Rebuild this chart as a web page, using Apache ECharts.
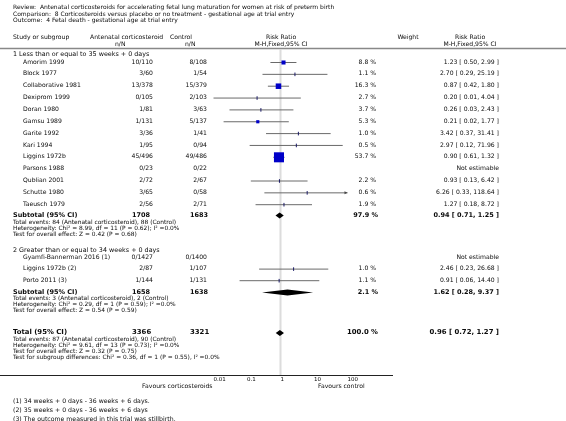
<!DOCTYPE html>
<html><head><meta charset="utf-8">
<script src="https://cdn.jsdelivr.net/npm/echarts@6/dist/echarts.min.js"></script>
<style>html,body{margin:0;padding:0;background:#fff}#c{width:566px;height:421px}</style>
</head><body><div id="c"></div>
<script>
// ---------- DATA ----------
const titleLines = [
  'Review:  Antenatal corticosteroids for accelerating fetal lung maturation for women at risk of preterm birth',
  'Comparison:  8 Corticosteroids versus placebo or no treatment - gestational age at trial entry',
  'Outcome:  4 Fetal death - gestational age at trial entry'
];
const group1Label = '1 Less than or equal to 35 weeks + 0 days';
const group1Names = ['Amorim 1999','Block 1977','Collaborative 1981','Dexiprom 1999','Doran 1980','Gamsu 1989','Garite 1992','Kari 1994','Liggins 1972b','Parsons 1988','Qublian 2001','Schutte 1980','Taeusch 1979'];
const group1TreatEvents = [10,3,13,0,1,1,3,1,45,0,2,3,2];
const group1TreatTotal  = [110,60,378,105,81,131,36,95,496,23,72,65,56];
const group1CtrlEvents  = [8,1,15,2,3,5,1,0,49,0,2,0,2];
const group1CtrlTotal   = [108,54,379,103,63,137,41,94,486,22,67,58,71];
const group1Weight = [8.8,1.1,16.3,2.7,3.7,5.3,1.0,0.5,53.7,null,2.2,0.6,1.9];
const group1RR = [1.23,2.70,0.87,0.20,0.26,0.21,3.42,2.97,0.90,null,0.93,6.26,1.27];
const group1Lo = [0.50,0.29,0.42,0.01,0.03,0.02,0.37,0.12,0.61,null,0.13,0.33,0.18];
const group1Hi = [2.99,25.19,1.80,4.04,2.43,1.77,31.41,71.96,1.32,null,6.42,118.64,8.72];
const group1Stats = ['Total events: 84 (Antenatal corticosteroid), 88 (Control)',
  'Heterogeneity: Chi² = 8.99, df = 11 (P = 0.62); I² =0.0%',
  'Test for overall effect: Z = 0.42 (P = 0.68)'];

const group2Label = '2 Greater than or equal to 34 weeks + 0 days';
const group2Names = ['Gyamfi-Bannerman 2016 (1)','Liggins 1972b (2)','Porto 2011 (3)'];
const group2TreatEvents = [0,2,1];
const group2TreatTotal  = [1427,87,144];
const group2CtrlEvents  = [0,1,1];
const group2CtrlTotal   = [1400,107,131];
const group2Weight = [null,1.0,1.1];
const group2RR = [null,2.46,0.91];
const group2Lo = [null,0.23,0.06];
const group2Hi = [null,26.68,14.40];
const group2Stats = ['Total events: 3 (Antenatal corticosteroid), 2 (Control)',
  'Heterogeneity: Chi² = 0.29, df = 1 (P = 0.59); I² =0.0%',
  'Test for overall effect: Z = 0.54 (P = 0.59)'];

const pooledLabels = ['Subtotal (95% CI)','Subtotal (95% CI)','Total (95% CI)'];
const pooledTreatTotal = [1708,1658,3366];
const pooledCtrlTotal  = [1683,1638,3321];
const pooledWeight = [97.9,2.1,100.0];
const pooledRR = [0.94,1.62,0.96];
const pooledLo = [0.71,0.28,0.72];
const pooledHi = [1.25,9.37,1.27];
const totalStats = ['Total events: 87 (Antenatal corticosteroid), 90 (Control)',
  'Heterogeneity: Chi² = 9.61, df = 13 (P = 0.73); I² =0.0%',
  'Test for overall effect: Z = 0.32 (P = 0.75)',
  'Test for subgroup differences: Chi² = 0.36, df = 1 (P = 0.55), I² =0.0%'];

const tickValues = [0.01,0.1,1,10,100];
const tickLabels = ['0.01','0.1','1','10','100'];
const favoursLeft = 'Favours corticosteroids';
const favoursRight = 'Favours control';
const footnotes = ['(1) 34 weeks + 0 days - 36 weeks + 6 days.',
  '(2) 35 weeks + 0 days - 36 weeks + 6 days',
  '(3) The outcome measured in this trial was stillbirth.'];

// ---------- LAYOUT ----------
const FONT = '"DejaVu Sans", Verdana, sans-serif';
const fmt2 = v => v.toFixed(2);
const ciText = (r,l,h) => r==null ? 'Not estimable' : fmt2(r)+' [ '+fmt2(l)+', '+fmt2(h)+' ]';
const wText = w => w==null ? '' : w.toFixed(1)+' %';

const X_NAME = 23, X_HEAD = 13, X_TRT = 153, X_CTL = 207, X_W = 376, X_CI = 499;
const X_TRT_B = 132, X_CTL_B = 190;
const AXIS_Y = 375;
const FS_ROW = 6.1, FS_SMALL = 5.9, FS_TITLE = 6.0, FS_HEAD = 6.1, FS_GROUP = 6.4;
const STAT_DY = 6.2;

const g = [];
function T(text, x, y, size, opts) {
  opts = opts || {};
  g.push({type:'text', z:10, style:{text:text, x:x, y:y, fill:opts.fill||'#0a0a0a',
    font:(opts.bold?'bold ':'')+size+'px '+FONT, textAlign:opts.align||'left', textVerticalAlign:'middle'}});
}
titleLines.forEach((t,i)=>T(t, X_HEAD, 7.5+6.6*i, FS_TITLE));
T('Study or subgroup', X_HEAD, 37.5, FS_HEAD);
T('Antenatal corticosteroid', 90, 37.5, FS_HEAD);
T('Control', 170, 37.5, FS_HEAD);
T('n/N', 115, 44, FS_HEAD);
T('n/N', 185, 44, FS_HEAD);
T('Risk Ratio', 281, 37.5, FS_HEAD, {align:'center'});
T('M-H,Fixed,95% CI', 281, 44, FS_HEAD, {align:'center'});
T('Weight', 408, 37.5, FS_HEAD, {align:'center'});
T('Risk Ratio', 470, 37.5, FS_HEAD, {align:'center'});
T('M-H,Fixed,95% CI', 470, 44, FS_HEAD, {align:'center'});
g.push({type:'line', shape:{x1:0,y1:48.5,x2:566,y2:48.5}, style:{stroke:'#888', lineWidth:1.5}});
g.push({type:'line', shape:{x1:0,y1:AXIS_Y+0.5,x2:393,y2:AXIS_Y+0.5}, style:{stroke:'#222', lineWidth:1}});

const studyData = [];
const pooledData = [];
function studyRows(names,te,tt,ce,ct,w,rr,lo,hi,y0,dy){
  names.forEach((n,i)=>{
    const y = y0 + dy*i;
    T(n, X_NAME, y, FS_ROW);
    T(te[i]+'/'+tt[i], X_TRT, y, FS_ROW, {align:'right'});
    T(ce[i]+'/'+ct[i], X_CTL, y, FS_ROW, {align:'right'});
    T(wText(w[i]), X_W, y, FS_ROW, {align:'right'});
    T(ciText(rr[i],lo[i],hi[i]), X_CI, y, FS_ROW, {align:'right'});
    if (rr[i]!=null) studyData.push([rr[i],lo[i],hi[i],y,w[i]]);
  });
}
function pooledRow(k,y,big){
  const s = big?6.9:6.5;
  T(pooledLabels[k], X_HEAD, y, s, {bold:true});
  T(String(pooledTreatTotal[k]), X_TRT_B, y, s, {bold:true});
  T(String(pooledCtrlTotal[k]), X_CTL_B, y, s, {bold:true});
  T(wText(pooledWeight[k]), X_W+2, y, s, {bold:true, align:'right'});
  T(ciText(pooledRR[k],pooledLo[k],pooledHi[k]), X_CI, y, s, {bold:true, align:'right'});
  pooledData.push([pooledRR[k],pooledLo[k],pooledHi[k],y]);
}
function statLines(lines,y0){ lines.forEach((t,i)=>T(t, X_HEAD, y0+STAT_DY*i, FS_SMALL)); }

T(group1Label, X_HEAD, 54, FS_GROUP);
studyRows(group1Names,group1TreatEvents,group1TreatTotal,group1CtrlEvents,group1CtrlTotal,group1Weight,group1RR,group1Lo,group1Hi,62,11.85);
pooledRow(0,215,false);
statLines(group1Stats,222);
T(group2Label, X_HEAD, 250.5, FS_GROUP);
studyRows(group2Names,group2TreatEvents,group2TreatTotal,group2CtrlEvents,group2CtrlTotal,group2Weight,group2RR,group2Lo,group2Hi,257,11.6);
pooledRow(1,292,false);
statLines(group2Stats,298.5);
pooledRow(2,332.5,true);
statLines(totalStats,339);

T(favoursLeft, 212.5, 386.5, 6.1, {align:'right'});
T(favoursRight, 318, 386.5, 6.1);
footnotes.forEach((t,i)=>T(t, X_HEAD, 401.5+9*i, 6.2));

// ---------- CHART ----------
const chart = echarts.init(document.getElementById('c'), null, {renderer:'canvas'});
const XMIN = tickValues[0], XMAX = tickValues[tickValues.length-1];
chart.setOption({
  animation:false,
  grid:{left:213.5, width:134, top:0, height:AXIS_Y},
  xAxis:{type:'log', logBase:10, min:XMIN, max:XMAX,
    axisLine:{show:false},
    axisTick:{show:true, inside:true, length:3, lineStyle:{color:'#aaa', width:1}},
    axisLabel:{show:true, fontSize:5.5, fontFamily:FONT, color:'#0a0a0a', align:'left', margin:1.5,
      formatter:v=>{const i=tickValues.findIndex(t=>Math.abs(Math.log10(t)-Math.log10(v))<1e-6);return i>=0?tickLabels[i]:'';}},
    splitLine:{show:false}},
  yAxis:{type:'value', min:0, max:AXIS_Y, inverse:true, show:false},
  graphic:g,
  series:[
    {type:'line', data:[[1,49],[1,AXIS_Y]], symbol:'none', z:1, silent:true,
      lineStyle:{color:'#dcdcdc', width:2}},
    {type:'custom', z:5, encode:{x:[0,1,2], y:3}, data:studyData, clip:false,
      renderItem:(params, api)=>{
        const rr=api.value(0), lo=Math.max(api.value(1),XMIN), hiRaw=api.value(2), w=api.value(4), y=api.value(3);
        const hi=Math.min(hiRaw,XMAX);
        const p=api.coord([rr,y]), pl=api.coord([lo,y]), ph=api.coord([hi,y]);
        const ch=[{type:'line', shape:{x1:pl[0],y1:y+0.5,x2:ph[0],y2:y+0.5}, style:{stroke:'#6a6a6a', lineWidth:1}}];
        if (hiRaw>XMAX) ch.push({type:'polygon', shape:{points:[[ph[0],y+0.5],[ph[0]-3,y-1],[ph[0]-3,y+2]]}, style:{fill:'#444'}});
        if (w>=4){ const s=1.37*Math.sqrt(w);
          ch.push({type:'rect', shape:{x:p[0]-s/2,y:y+0.5-s/2,width:s,height:s}, style:{fill:'#0000c8'}});
        } else {
          ch.push({type:'line', shape:{x1:p[0],y1:y-1.3,x2:p[0],y2:y+2.3}, style:{stroke:'#1a1a66', lineWidth:1}});
        }
        return {type:'group', children:ch};
      }},
    {type:'custom', z:6, encode:{x:[0,1,2], y:3}, data:pooledData, clip:false,
      renderItem:(params, api)=>{
        const y=api.value(3)+0.5;
        const p=api.coord([api.value(0),y]), pl=api.coord([api.value(1),y]), ph=api.coord([api.value(2),y]);
        const h=3;
        return {type:'polygon', shape:{points:[[pl[0],y],[p[0],y-h],[ph[0],y],[p[0],y+h]]}, style:{fill:'#000'}};
      }}
  ]
});
</script></body></html>
